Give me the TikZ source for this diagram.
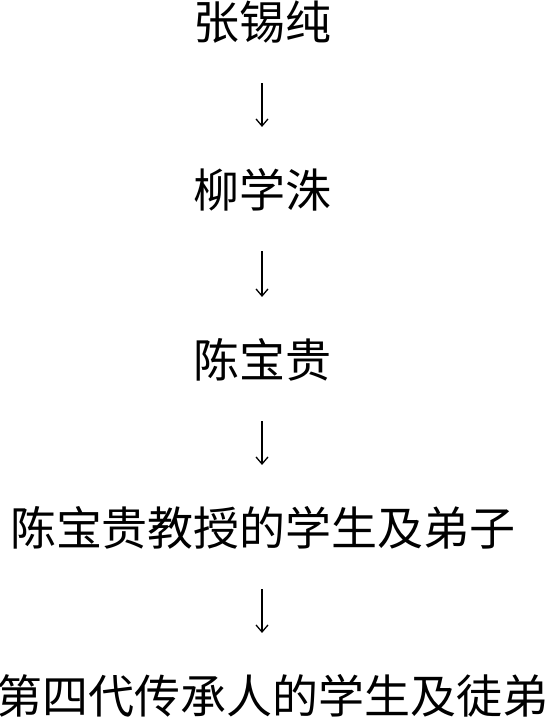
\documentclass[tikz,border=0pt]{standalone}
\usepackage{fontspec}
\newfontfamily\cjk{Noto Sans CJK SC}
\usetikzlibrary{arrows.meta}

\begin{document}
\begin{tikzpicture}[>={Straight Barb[length=7pt,width=12pt]}, line width=1.3pt,
    person/.style={font=\cjk\fontsize{46}{46}\selectfont, inner sep=0pt,
        text height=8pt, text depth=0.8pt},
    link/.style={->, shorten <=42pt, shorten >=72pt}]
    % Frame
    \useasboundingbox (0pt, 0pt) rectangle (546pt, -721pt);

    % Names
    \node[person] (zhang) at (262pt, -36pt) {张锡纯};
    \node[person] (liu)   at (262pt, -204pt) {柳学洙};
    \node[person] (chen)  at (262pt, -374pt) {陈宝贵};
    \node[person] (stud)  at (263pt, -542pt) {陈宝贵教授的学生及弟子};
    \node[person] (gen)   at (273pt, -710pt) {第四代传承人的学生及徒弟};

    % Arrows down
    \draw[link] (zhang.south) -- (zhang.south |- liu.north);
    \draw[link] (liu.south) -- (liu.south |- chen.north);
    \draw[link] (chen.south) -- (chen.south |- stud.north);
    \draw[link] (stud.south -| chen.south) -- (chen.south |- gen.north);
\end{tikzpicture}
\end{document}
